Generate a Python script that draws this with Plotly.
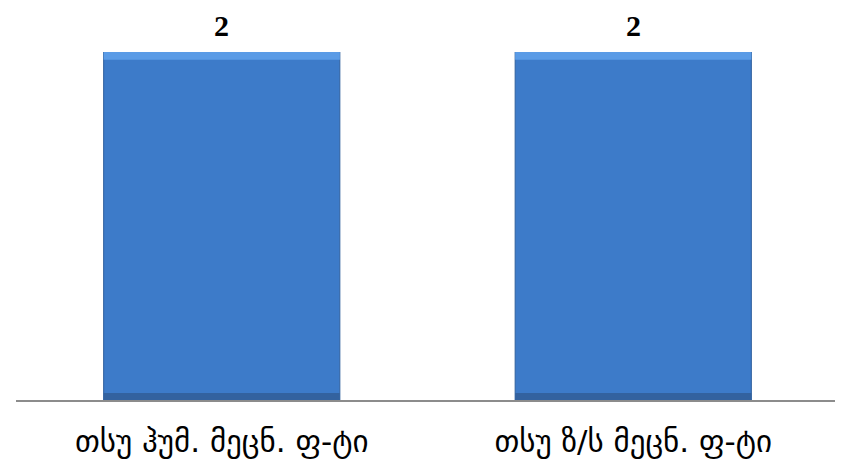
import plotly.graph_objects as go

categories = ["თსუ ჰუმ. მეცნ. ფ-ტი", "თსუ ზ/ს მეცნ. ფ-ტი"]
values = [2, 2]
value_labels = ["2", "2"]

bar_width = 0.574
fig = go.Figure()
fig.add_trace(go.Bar(
    x=categories, y=values, width=bar_width,
    marker=dict(color="#3D7BC9", line=dict(color="#2F5F9E", width=1)),
    hoverinfo="skip", showlegend=False,
))
# top highlight bevel
fig.add_trace(go.Bar(
    x=categories, y=[0.045] * len(values), base=[v - 0.045 for v in values],
    width=bar_width, marker=dict(color="#5A9BE6", line=dict(width=0)),
    hoverinfo="skip", showlegend=False,
))
# bottom darker bevel
fig.add_trace(go.Bar(
    x=categories, y=[0.04] * len(values), base=[0] * len(values),
    width=bar_width, marker=dict(color="#33629F", line=dict(width=0)),
    hoverinfo="skip", showlegend=False,
))

for c, v, t in zip(categories, values, value_labels):
    fig.add_annotation(x=c, y=v, text="<b>" + t + "</b>", showarrow=False,
                       yshift=27, font=dict(family="Liberation Serif", size=30, color="#000000"))

fig.update_layout(
    width=835, height=453,
    margin=dict(l=8, r=4, t=44, b=61, autoexpand=False),
    paper_bgcolor="white", plot_bgcolor="white",
    barmode="overlay",
    xaxis=dict(showgrid=False, showline=True, linecolor="#8C8C8C", linewidth=2,
               ticks="", ticklabelstandoff=13, automargin=False,
               tickfont=dict(family="DejaVu Sans", size=31, color="#000000")),
    yaxis=dict(range=[0, 2], visible=False, showgrid=False, automargin=False),
)
fig.write_html("out.html")
